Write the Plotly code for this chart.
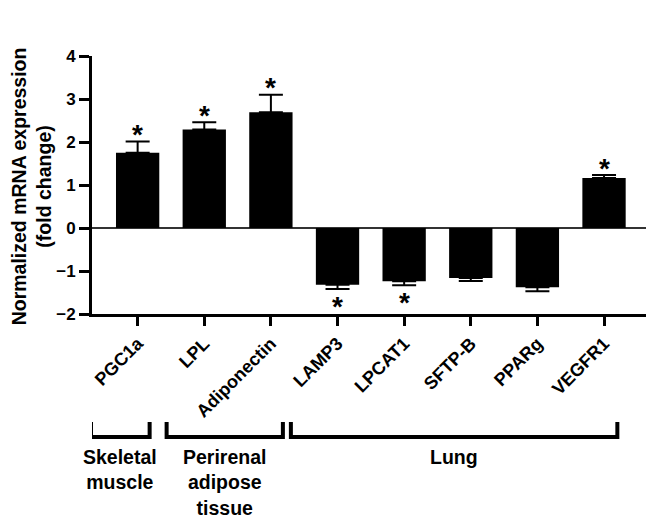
import plotly.graph_objects as go

genes = ["PGC1a", "LPL", "Adiponectin", "LAMP3", "LPCAT1", "SFTP-B", "PPARg", "VEGFR1"]
means = [1.75, 2.29, 2.69, -1.32, -1.24, -1.16, -1.38, 1.16]
sem = [0.26, 0.17, 0.41, 0.10, 0.09, 0.07, 0.09, 0.07]
significant = [True, True, True, True, True, False, False, True]
y_ticks = [-2, -1, 0, 1, 2, 3, 4]
groups = ["Skeletal<br>muscle", "Perirenal<br>adipose<br>tissue", "Lung"]

FONT = "Liberation Sans, Arial, Helvetica, sans-serif"

err_plus = [s if m > 0 else 0 for m, s in zip(means, sem)]
err_minus = [s if m < 0 else 0 for m, s in zip(means, sem)]

fig = go.Figure()
fig.add_trace(go.Bar(
    x=list(range(len(genes))), y=means, width=0.65,
    marker=dict(color="black", line=dict(width=0)),
    error_y=dict(type="data", symmetric=False, array=err_plus, arrayminus=err_minus,
                 color="black", thickness=2, width=12),
    showlegend=False,
))

annotations = []
for i, (m, s, sig) in enumerate(zip(means, sem, significant)):
    if not sig:
        continue
    if m > 0:
        annotations.append(dict(x=i, y=m + s, xref="x", yref="y", text="<b>*</b>",
                                showarrow=False, yanchor="middle", yshift=7,
                                font=dict(family=FONT, size=28, color="black")))
    else:
        annotations.append(dict(x=i, y=m - s, xref="x", yref="y", text="<b>*</b>",
                                showarrow=False, yanchor="middle", yshift=-17,
                                font=dict(family=FONT, size=28, color="black")))

# y-axis title
annotations.append(dict(x=-0.11, y=0.495, xref="paper", yref="paper",
                        text="<b>Normalized mRNA expression<br>(fold change)</b>",
                        textangle=-90, showarrow=False, xanchor="center", yanchor="middle",
                        font=dict(family=FONT, size=19.5, color="black")))

# group brackets (x in data units, y in paper units)
bracket_x = [(-0.70, 0.18), (0.435, 2.18), (2.30, 7.20)]
top_y, bot_y = -0.4186, -0.4767
shapes = []
for (x0, x1), label in zip(bracket_x, groups):
    shapes.append(dict(type="path", xref="x", yref="paper",
                       path=f"M {x0},{top_y} L {x0},{bot_y} L {x1},{bot_y} L {x1},{top_y}",
                       line=dict(color="black", width=4)))
    annotations.append(dict(x=(x0 + x1) / 2, y=-0.502, xref="x", yref="paper",
                            text=f"<b>{label}</b>", showarrow=False,
                            xanchor="center", yanchor="top",
                            font=dict(family=FONT, size=19.5, color="black")))

fig.update_layout(
    width=646, height=519,
    margin=dict(l=92, r=0, t=56, b=205),
    plot_bgcolor="white", paper_bgcolor="white",
    font=dict(family=FONT, color="black"),
    xaxis=dict(range=[-0.685, 7.63], tickmode="array", tickvals=list(range(len(genes))),
               ticktext=[f"<b>{g}</b>" for g in genes], tickangle=-45,
               tickfont=dict(family=FONT, size=18, color="black"),
               showline=True, linecolor="black", linewidth=3,
               ticks="outside", ticklen=9, tickwidth=3, tickcolor="black",
               showgrid=False, zeroline=False),
    yaxis=dict(range=[-2, 4], tickmode="array", tickvals=y_ticks,
               ticktext=[f"<b>{t}</b>".replace("-", "\u2212") for t in y_ticks],
               tickfont=dict(family=FONT, size=17, color="black"),
               showline=True, linecolor="black", linewidth=3,
               ticks="outside", ticklen=10, tickwidth=3, tickcolor="black",
               showgrid=False, zeroline=True, zerolinecolor="#333333", zerolinewidth=1.5),
    shapes=shapes,
    annotations=annotations,
)

fig.write_html("out.html", config={"displayModeBar": False},
               post_script="document.body.style.margin='0';document.body.style.overflow='hidden';")
